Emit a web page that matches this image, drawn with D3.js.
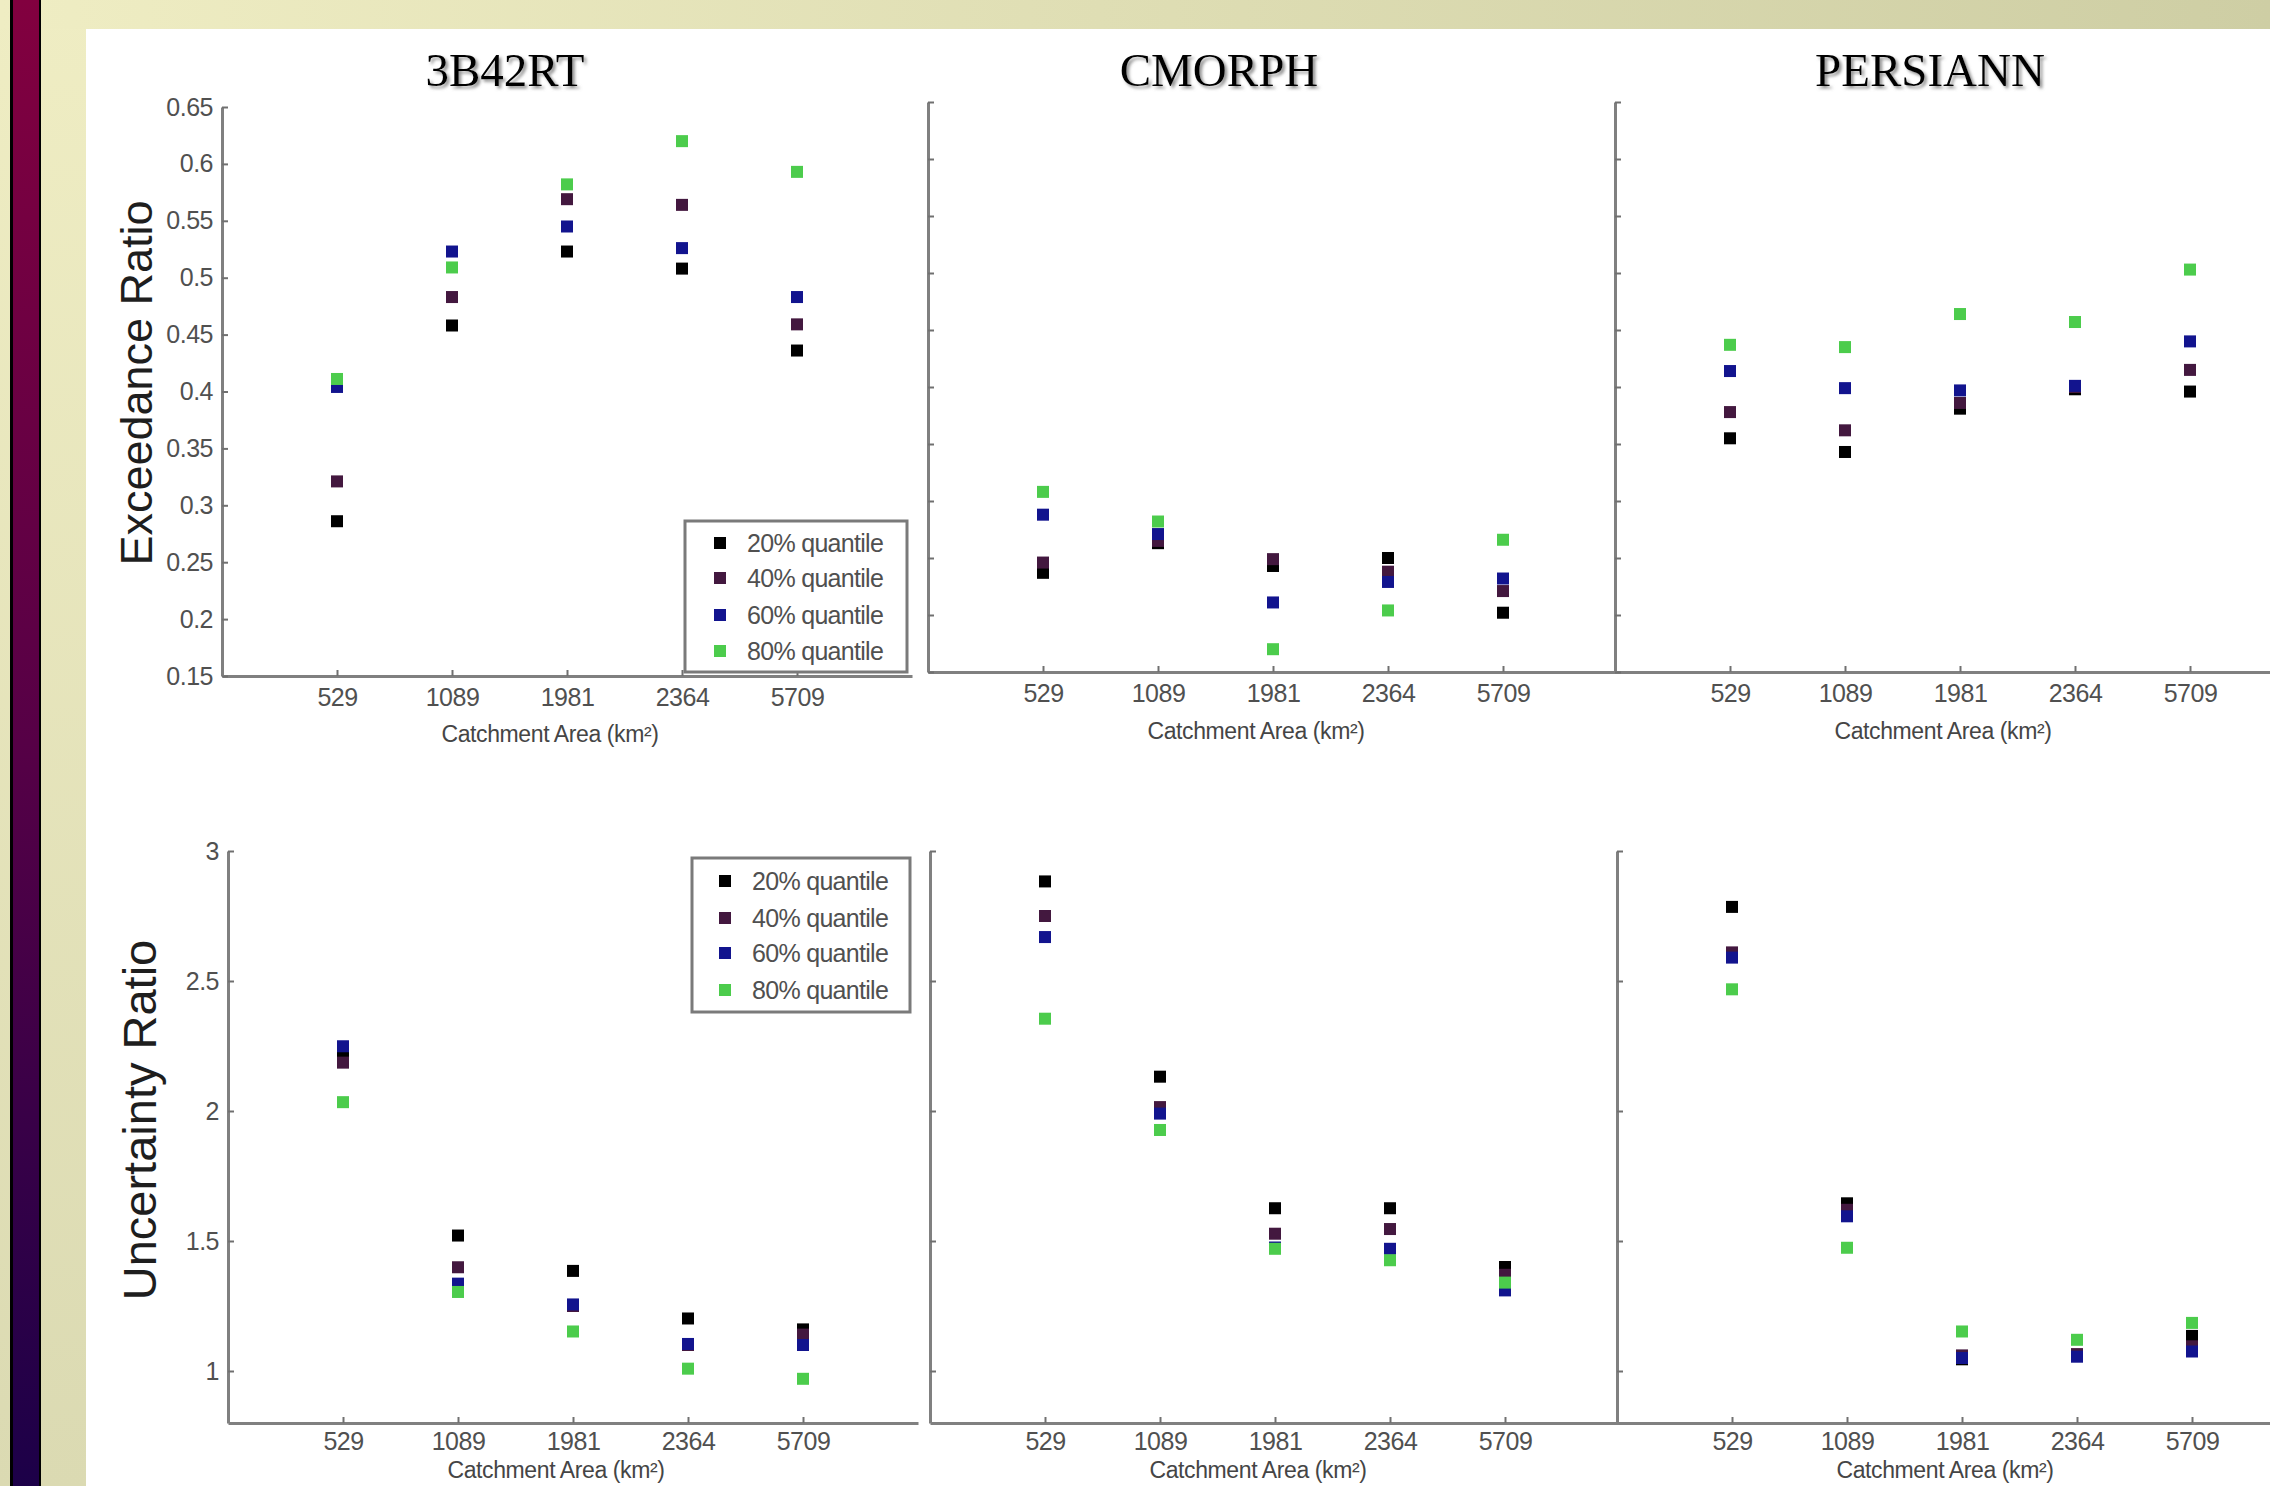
<!DOCTYPE html>
<html><head><meta charset="utf-8">
<script src="https://cdn.jsdelivr.net/npm/d3@7/dist/d3.min.js"></script>
<style>html,body{margin:0;padding:0;background:#fff;overflow:hidden}</style>
</head><body>
<svg id="chart" width="2270" height="1486"></svg>
<script>
// ---------------- data ----------------
const products = ["3B42RT", "CMORPH", "PERSIANN"];
const catchments = ["529", "1089", "1981", "2364", "5709"];
const quantiles = ["20% quantile", "40% quantile", "60% quantile", "80% quantile"];
const exceedanceTicks = [0.15, 0.2, 0.25, 0.3, 0.35, 0.4, 0.45, 0.5, 0.55, 0.6, 0.65];
const uncertaintyTicks = [1, 1.5, 2, 2.5, 3];
const rowTitles = ["Exceedance Ratio", "Uncertainty Ratio"];
const xTitle = "Catchment Area (km\u00B2)";

// rows = quantiles (20,40,60,80%), columns = catchments
const exc3B42RT = [
  [0.286, 0.458, 0.523, 0.508, 0.436],
  [0.321, 0.483, 0.569, 0.564, 0.459],
  [0.404, 0.523, 0.545, 0.526, 0.483],
  [0.411, 0.509, 0.582, 0.620, 0.593]
];
const excCMORPH = [
  [0.237, 0.263, 0.243, 0.250, 0.202],
  [0.246, 0.265, 0.249, 0.238, 0.221],
  [0.288, 0.271, 0.211, 0.229, 0.232],
  [0.308, 0.282, 0.170, 0.204, 0.266]
];
const excPERSIANN = [
  [0.355, 0.343, 0.381, 0.398, 0.396],
  [0.378, 0.362, 0.386, 0.400, 0.415],
  [0.414, 0.399, 0.397, 0.401, 0.440],
  [0.437, 0.435, 0.464, 0.457, 0.503]
];
const unc3B42RT = [
  [2.220, 1.521, 1.385, 1.202, 1.160],
  [2.186, 1.399, 1.250, 1.100, 1.140],
  [2.249, 1.336, 1.256, 1.104, 1.100],
  [2.034, 1.304, 1.152, 1.009, 0.970]
];
const uncCMORPH = [
  [2.883, 2.132, 1.626, 1.626, 1.400],
  [2.750, 2.015, 1.528, 1.546, 1.370],
  [2.669, 1.990, 1.475, 1.470, 1.310],
  [2.355, 1.927, 1.470, 1.426, 1.340]
];
const uncPERSIANN = [
  [2.785, 1.645, 1.045, 1.060, 1.135],
  [2.610, 1.620, 1.060, 1.065, 1.095],
  [2.590, 1.595, 1.050, 1.055, 1.075],
  [2.468, 1.474, 1.152, 1.120, 1.185]
];
const quantileColors = ["#000000", "#43183f", "#12148e", "#4ccc4c"];

// ---------------- layout ----------------
const svg = d3.select("#chart");
const defs = svg.append("defs");

const gV = defs.append("linearGradient").attr("id", "bgV").attr("x1", 0).attr("y1", 0).attr("x2", 0).attr("y2", 1);
gV.append("stop").attr("offset", 0).attr("stop-color", "#efedc3");
gV.append("stop").attr("offset", 1).attr("stop-color", "#dbdab2");
const gH = defs.append("linearGradient").attr("id", "bgH").attr("x1", 0).attr("y1", 0).attr("x2", 1).attr("y2", 0);
gH.append("stop").attr("offset", 0).attr("stop-color", "#efedc3");
gH.append("stop").attr("offset", 1).attr("stop-color", "#cecea4");
const gS = defs.append("linearGradient").attr("id", "stripe").attr("x1", 0).attr("y1", 0).attr("x2", 0).attr("y2", 1);
gS.append("stop").attr("offset", 0).attr("stop-color", "#82003f");
gS.append("stop").attr("offset", 0.5).attr("stop-color", "#560046");
gS.append("stop").attr("offset", 1).attr("stop-color", "#1c0048");
const sh = defs.append("filter").attr("id", "shadow").attr("x", "-10%").attr("y", "-20%").attr("width", "130%").attr("height", "150%");
sh.append("feDropShadow").attr("dx", 2.5).attr("dy", 2.5).attr("stdDeviation", 1.5).attr("flood-color", "#777").attr("flood-opacity", 0.8);

svg.append("rect").attr("width", 2270).attr("height", 1486).attr("fill", "url(#bgV)");
svg.append("rect").attr("width", 2270).attr("height", 29).attr("fill", "url(#bgH)");
svg.append("rect").attr("x", 10).attr("y", 0).attr("width", 31).attr("height", 1486).attr("fill", "#000");
svg.append("rect").attr("x", 13).attr("y", 0).attr("width", 26).attr("height", 1486).attr("fill", "url(#stripe)");
svg.append("rect").attr("x", 86).attr("y", 29).attr("width", 2270 - 86).attr("height", 1486 - 29).attr("fill", "#fff");

const panels = [
  { row: 0, col: 0, data: exc3B42RT, x0: 222, y0: 676, y1: 107 },
  { row: 0, col: 1, data: excCMORPH, x0: 928, y0: 672, y1: 102 },
  { row: 0, col: 2, data: excPERSIANN, x0: 1615, y0: 672, y1: 102 },
  { row: 1, col: 0, data: unc3B42RT, x0: 228, y0: 1423, y1: 851 },
  { row: 1, col: 1, data: uncCMORPH, x0: 930, y0: 1423, y1: 851 },
  { row: 1, col: 2, data: uncPERSIANN, x0: 1617, y0: 1423, y1: 851 }
];
const panelWidth = 690;
const markerSize = 12;
const tickFont = "Liberation Sans, Arial, sans-serif";

panels.forEach(p => {
  const g = svg.append("g");
  const x = d3.scalePoint().domain(catchments).range([p.x0, p.x0 + panelWidth]).padding(1);
  const y = d3.scaleLinear()
    .domain(p.row === 0 ? [0.15, 0.65] : [0.8, 3])
    .range([p.y0, p.y1]);

  const xAxis = g.append("g").attr("transform", `translate(0,${p.y0})`)
    .call(d3.axisBottom(x).tickSizeInner(-6).tickSizeOuter(0).tickPadding(p.row === 0 ? 12 : 9));
  const yAxis = g.append("g").attr("transform", `translate(${p.x0},0)`)
    .call(d3.axisLeft(y).tickValues(p.row === 0 ? exceedanceTicks : uncertaintyTicks)
      .tickFormat(p.col === 0 ? (d => String(+d.toFixed(2))) : (() => ""))
      .tickSizeInner(-6).tickSizeOuter(0).tickPadding(9));
  [xAxis, yAxis].forEach(a => {
    a.select(".domain").attr("stroke", "#808080").attr("stroke-width", 3);
    a.selectAll(".tick line").attr("stroke", "#707070").attr("stroke-width", 2);
    a.selectAll(".tick text").attr("fill", "#505050").attr("font-size", 25)
      .attr("font-family", tickFont).attr("letter-spacing", "-0.5");
  });

  // axis title
  g.append("text").attr("x", p.x0 + 328)
    .attr("y", p.row === 0 ? (p.col === 0 ? 742 : 739) : 1478)
    .attr("text-anchor", "middle").attr("font-family", tickFont).attr("font-size", 23)
    .attr("fill", "#454545").attr("letter-spacing", "-0.4").text(xTitle);

  // points (drawn quantile by quantile so the last one sits on top)
  p.data.forEach((series, qi) => {
    g.append("g").selectAll("rect").data(series).join("rect")
      .attr("x", (d, i) => x(catchments[i]) - markerSize / 2)
      .attr("y", d => y(d) - markerSize / 2)
      .attr("width", markerSize).attr("height", markerSize)
      .attr("fill", quantileColors[qi]);
  });
});

// panel titles
const titleX = [505, 1219, 1930];
products.forEach((name, i) => {
  svg.append("text").attr("x", titleX[i]).attr("y", 86).attr("text-anchor", "middle")
    .attr("font-family", "Liberation Serif, Times New Roman, serif").attr("font-size", 47)
    .attr("fill", "#000").attr("filter", "url(#shadow)").text(name);
});

// row (y) titles
[[152, 383, 45], [156, 1120, 47]].forEach(([tx, ty, fs], i) => {
  svg.append("text").attr("transform", `translate(${tx},${ty}) rotate(-90)`)
    .attr("text-anchor", "middle").attr("font-family", tickFont).attr("font-size", fs)
    .attr("fill", "#1e1e1e").text(rowTitles[i]);
});

// legends
const legends = [
  { x: 685, y: 521, w: 222, h: 151, mx: 720, tx: 747, rows: [543, 578, 615, 651] },
  { x: 692, y: 858, w: 218, h: 154, mx: 725, tx: 752, rows: [881, 918, 953, 990] }
];
legends.forEach(L => {
  const g = svg.append("g");
  g.append("rect").attr("x", L.x).attr("y", L.y).attr("width", L.w).attr("height", L.h)
    .attr("fill", "#fff").attr("stroke", "#7a7a7a").attr("stroke-width", 3);
  quantiles.forEach((q, i) => {
    g.append("rect").attr("x", L.mx - markerSize / 2).attr("y", L.rows[i] - markerSize / 2)
      .attr("width", markerSize).attr("height", markerSize)
      .attr("fill", quantileColors[i]);
    g.append("text").attr("x", L.tx).attr("y", L.rows[i] + 9).attr("font-family", tickFont)
      .attr("font-size", 25).attr("fill", "#505050").attr("letter-spacing", "-0.7").text(q);
  });
});
</script>
</body></html>
